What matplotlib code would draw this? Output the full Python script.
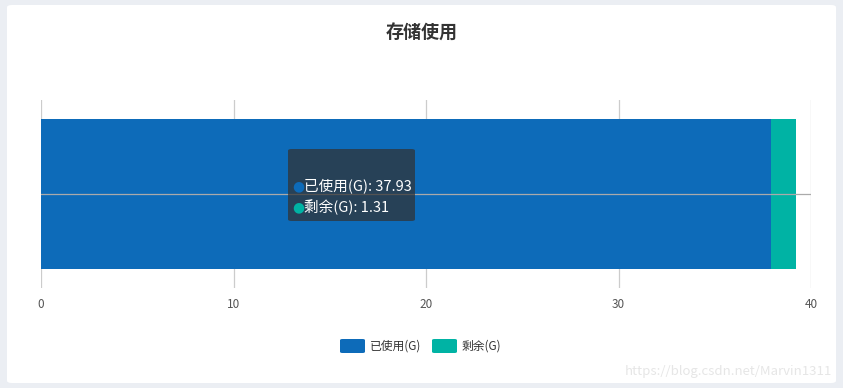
import matplotlib.pyplot as plt
from matplotlib.patches import FancyBboxPatch

plt.rcParams['font.family'] = ['Noto Sans CJK SC', 'DejaVu Sans']

categories = ['存储']
used = [37.93]
free = [1.31]
series_names = ['已使用(G)', '剩余(G)']
colors = ['#0d6bb9', '#00b3a4']
xticks = [0, 10, 20, 30, 40]

W, H = 843, 388
fig = plt.figure(figsize=(W / 100, H / 100), dpi=100)
fig.patch.set_facecolor('#ebeef3')

# white card behind the chart
card = FancyBboxPatch((7 / W, 5 / H), 829 / W, 378 / H,
                      boxstyle='round,pad=0,rounding_size=0.006',
                      transform=fig.transFigure, facecolor='white',
                      edgecolor='none', zorder=-1)
fig.patches.append(card)

ax = fig.add_axes([41 / W, 1 - 288 / H, 770 / W, 188 / H])
ax.set_zorder(1)
ax.set_facecolor('none')

ax.barh(categories, used, height=0.8, color=colors[0], zorder=2)
ax.barh(categories, free, left=used, height=0.8, color=colors[1], zorder=2)

ax.set_xlim(0, 40)
ax.set_ylim(-0.5, 0.5)
ax.set_xticks(xticks)
ax.set_xticklabels([str(t) for t in xticks], fontsize=8.5, color='#555555')
ax.tick_params(axis='x', length=0, pad=7)
ax.set_yticks([])
for s in ax.spines.values():
    s.set_visible(False)
ax.grid(axis='x', color='#cccccc', linewidth=0.9, zorder=1)

# axis pointer line
ax.axhline(0, color='#aaaaaa', linewidth=0.9, zorder=3)

# tooltip (semi-transparent like echarts default)
tip = FancyBboxPatch((288 / W, 1 - 221 / H), 127 / W, 72 / H,
                     boxstyle='round,pad=0,rounding_size=0.004',
                     transform=fig.transFigure, facecolor='#323232',
                     alpha=0.72, edgecolor='none', zorder=5)
fig.patches.append(tip)
tip_vals = [used[0], free[0]]
for i, (name, val) in enumerate(zip(series_names, tip_vals)):
    y = 1 - (186 + i * 21) / H
    fig.text(298 / W, y, '●', color=colors[i], fontsize=10, va='center',
             ha='center', family=['DejaVu Sans'], zorder=6)
    fig.text(304 / W, y, f'{name}: {val}', color='white', fontsize=10.5,
             va='center', ha='left', zorder=6)

fig.text(422 / W, 1 - 33 / H, '存储使用', fontsize=13, fontweight='bold',
         color='#333333', ha='center', va='center')

# legend
leg_x = [340, 432]
for i, name in enumerate(series_names):
    sw = FancyBboxPatch((leg_x[i] / W, 1 - 353 / H), 25 / W, 14 / H,
                        boxstyle='round,pad=0,rounding_size=0.003',
                        transform=fig.transFigure, facecolor=colors[i],
                        edgecolor='none')
    fig.patches.append(sw)
    fig.text((leg_x[i] + 30) / W, 1 - 346 / H, name, fontsize=8.5,
             color='#333333', ha='left', va='center')

fig.text(832 / W, 1 - 371 / H, 'https://blog.csdn.net/Marvin1311',
         fontsize=9.5, color='#e6e6e6', ha='right', va='center')

fig.savefig('out.png', dpi=100, facecolor=fig.get_facecolor())
